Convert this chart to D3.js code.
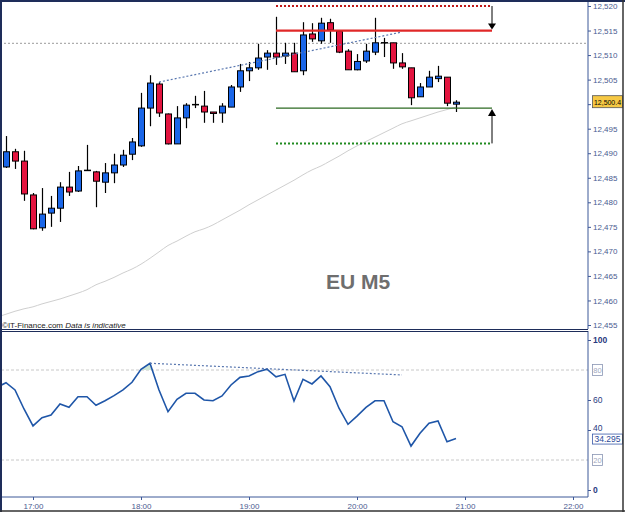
<!DOCTYPE html>
<html><head><meta charset="utf-8">
<script src="https://cdn.jsdelivr.net/npm/d3@7"></script>
<style>
body{margin:0;background:#fff}
svg{display:block}
text{font-family:Arial,"Liberation Sans",sans-serif}
</style>
</head><body>
<svg id="c" width="625" height="512"></svg>
<script>
// ---------- DATA ----------
const times = ["16:45","16:50","16:55","17:00","17:05","17:10","17:15","17:20","17:25","17:30","17:35","17:40","17:45","17:50","17:55",
"18:00","18:05","18:10","18:15","18:20","18:25","18:30","18:35","18:40","18:45","18:50","18:55",
"19:00","19:05","19:10","19:15","19:20","19:25","19:30","19:35","19:40","19:45","19:50","19:55",
"20:00","20:05","20:10","20:15","20:20","20:25","20:30","20:35","20:40","20:45","20:50","20:55"];
const opens  = [12487.2,12490.3,12488.4,12481.5,12474.8,12477.8,12478.8,12483.1,12482.3,12486.5,12486.2,12484.1,12486.0,12487.6,12489.8,
12491.5,12499.2,12504.1,12498.0,12491.9,12497.2,12499.9,12499.6,12498.4,12498.2,12499.4,12503.5,
12506.8,12507.4,12509.6,12510.4,12509.8,12510.4,12506.8,12514.3,12512.9,12516.6,12514.9,12510.8,
12507.0,12508.8,12510.6,12512.5,12512.5,12508.4,12507.4,12501.5,12503.5,12505.2,12505.5,12500.0];
const highs  = [12493.5,12490.9,12490.5,12481.9,12482.9,12481.3,12484.1,12486.2,12487.4,12491.7,12486.4,12488.0,12489.9,12490.7,12493.1,
12502.3,12505.9,12504.5,12498.1,12499.6,12500.2,12501.7,12502.7,12498.4,12500.2,12503.9,12508.2,
12508.6,12512.3,12511.0,12517.8,12512.5,12512.5,12516.7,12516.5,12517.6,12517.4,12515.0,12511.2,
12510.2,12512.3,12517.6,12513.5,12512.5,12510.4,12507.4,12504.3,12506.8,12507.8,12505.5,12500.8];
const lows   = [12487.0,12486.8,12480.3,12474.5,12474.2,12475.0,12476.0,12481.3,12482.1,12486.4,12479.0,12481.9,12483.9,12487.2,12488.6,
12491.3,12495.5,12497.4,12491.8,12491.9,12495.1,12499.2,12496.2,12496.2,12496.2,12499.4,12502.5,
12504.7,12507.0,12507.0,12508.0,12508.2,12506.6,12505.9,12512.7,12512.3,12512.5,12510.4,12507.0,
12506.9,12508.4,12510.0,12509.6,12507.2,12507.2,12499.8,12501.5,12503.5,12504.5,12499.6,12498.4];
const closes = [12490.3,12488.4,12481.7,12474.6,12477.6,12478.8,12483.1,12482.1,12486.4,12486.5,12484.3,12486.0,12487.6,12489.6,12492.3,
12499.2,12504.3,12498.2,12491.9,12497.2,12499.8,12499.9,12498.4,12498.1,12499.6,12503.5,12506.8,
12507.4,12509.4,12510.4,12509.6,12510.4,12506.6,12514.1,12513.3,12516.5,12515.1,12510.6,12507.0,
12508.7,12510.8,12512.5,12512.5,12508.4,12507.6,12501.3,12503.5,12505.5,12505.7,12500.2,12500.4];

// moving average and oscillator (one extra leading point at 16:40)
const lineTimes = ["16:40", ...times];
const maValues = [12456.6,12457.2,12457.8,12458.3,12458.7,12459.3,12459.8,12460.3,12460.9,12461.5,12462.2,12463.2,12463.9,12464.7,12465.6,12466.4,
12467.4,12468.6,12469.9,12471.2,12472.1,12473.1,12474.0,12474.6,12475.4,12476.4,12477.4,12478.4,
12479.5,12480.5,12481.5,12482.5,12483.5,12484.5,12485.6,12486.6,12487.4,12488.4,12489.4,12490.5,
12491.5,12492.4,12493.3,12494.2,12495.1,12496.0,12496.6,12497.2,12497.8,12498.4,12498.9,12499.4];
const oscValues = [68.5,71.5,66.7,54.0,42.7,48.2,50.0,57.3,55.1,62.2,62.2,56.5,59.5,62.9,66.7,71.8,
80.5,84.5,66.7,52.2,60.5,64.5,64.5,60.0,59.5,62.7,70.0,75.1,
76.0,78.9,80.5,75.5,77.1,59.3,73.8,70.7,76.0,68.9,54.5,43.8,
49.3,55.1,59.5,59.5,45.5,42.2,29.3,37.8,44.5,46.0,32.2,34.3];

const priceTicks = [12455,12460,12465,12470,12475,12480,12485,12490,12495,12500,12505,12510,12515,12520];
const oscTicks = [0,40,60,100];
const oscLevels = [20,80];
const timeTicks = ["17:00","18:00","19:00","20:00","21:00","22:00"];
const lastPrice = 12500.4;
const lastOsc = 34.295;
const refLevel = 12512.4;
const levelSpan = ["19:15","21:15"];
const levelResDotted = 12520, levelRes = 12515, levelSup = 12499.2, levelSupDotted = 12492.0;
const trendTimes = ["18:10","20:25"], trendValues = [12504.5,12514.7];
const oscTrendTimes = ["18:05","20:25"], oscTrendValues = [84.5,76.7];
const title = "EU M5";

// ---------- SCALES ----------
const parse = d3.timeParse("%H:%M");
const svg = d3.select("#c");
const AX = 588;
const x = d3.scaleTime().domain([parse("16:40"), parse("22:10")]).range([-3, 591]);
const y = d3.scaleLinear().domain([12455, 12520]).range([325, 6]);
const yo = d3.scaleLinear().domain([0, 100]).range([490, 340]);
const navy = "#1e2d5a", axisCol = "#3d5898", lblCol = "#4a5a90";
const FF = "Arial,'Liberation Sans',sans-serif";

// clips
const defs = svg.append("defs");
defs.append("clipPath").attr("id","cu").append("rect").attr("x",1).attr("y",2).attr("width",AX-1).attr("height",327);
defs.append("clipPath").attr("id","cl").append("rect").attr("x",1).attr("y",332).attr("width",AX-1).attr("height",165);
defs.append("clipPath").attr("id","ob").append("rect").attr("x",1).attr("y",332).attr("width",AX-1).attr("height",yo(80)-332);

// ---------- UPPER PANEL ----------
const up = svg.append("g").attr("clip-path","url(#cu)");
up.append("line").attr("x1",0).attr("x2",AX).attr("y1",y(refLevel)).attr("y2",y(refLevel))
  .attr("stroke","#9a9a9a").attr("stroke-dasharray","2,2");
up.append("path").datum(lineTimes.map((t,i)=>[parse(t), maValues[i]]))
  .attr("d", d3.line().curve(d3.curveMonotoneX).x(d=>x(d[0])).y(d=>y(d[1])))
  .attr("fill","none").attr("stroke","#cfcfcf").attr("stroke-width",1);

// candles
const blue = "#1a66e8", red = "#e3143f";
times.forEach((t,i)=>{
  const cx = Math.round(x(parse(t)));
  const o = opens[i], c = closes[i];
  up.append("line").attr("x1",cx+0.5).attr("x2",cx+0.5).attr("y1",y(highs[i])).attr("y2",y(lows[i]))
    .attr("stroke","#000").attr("stroke-width",1.2);
  if (Math.abs(o-c) < 0.05) {
    up.append("line").attr("x1",cx-3).attr("x2",cx+4).attr("y1",y(o)).attr("y2",y(o))
      .attr("stroke","#000").attr("stroke-width",1.5);
  } else {
    const top = y(Math.max(o,c)), bot = y(Math.min(o,c));
    up.append("rect").attr("x",cx-2.5).attr("width",6).attr("y",top).attr("height",Math.max(1,bot-top))
      .attr("fill", c>o ? blue : red).attr("stroke","#000").attr("stroke-width",1);
  }
});

up.append("line").attr("x1",x(parse(trendTimes[0]))).attr("y1",y(trendValues[0]))
  .attr("x2",x(parse(trendTimes[1]))).attr("y2",y(trendValues[1]))
  .attr("stroke","#5a78b0").attr("stroke-width",1.2).attr("stroke-dasharray","2,2");

const lx1 = x(parse(levelSpan[0])), lx2 = x(parse(levelSpan[1]));
up.append("line").attr("x1",lx1).attr("x2",lx2).attr("y1",y(levelResDotted)).attr("y2",y(levelResDotted))
  .attr("stroke","#c01818").attr("stroke-width",2).attr("stroke-dasharray","2,2");
up.append("line").attr("x1",lx1).attr("x2",lx2).attr("y1",y(levelRes)).attr("y2",y(levelRes))
  .attr("stroke","#e02828").attr("stroke-width",2.2);
up.append("line").attr("x1",lx1).attr("x2",lx2).attr("y1",y(levelSup)).attr("y2",y(levelSup))
  .attr("stroke","#2d6a22").attr("stroke-width",1.2);
up.append("line").attr("x1",lx1).attr("x2",lx2).attr("y1",y(levelSupDotted)).attr("y2",y(levelSupDotted))
  .attr("stroke","#208a20").attr("stroke-width",2).attr("stroke-dasharray","2,2");
up.append("line").attr("x1",lx2).attr("x2",lx2).attr("y1",y(levelResDotted)).attr("y2",y(levelRes)-6).attr("stroke","#000");
up.append("path").attr("d",`M${lx2-4},${y(levelRes)-7}L${lx2+4},${y(levelRes)-7}L${lx2},${y(levelRes)-1}Z`).attr("fill","#000");
up.append("line").attr("x1",lx2).attr("x2",lx2).attr("y1",y(levelSupDotted)).attr("y2",y(levelSup)+6).attr("stroke","#000");
up.append("path").attr("d",`M${lx2-4},${y(levelSup)+8}L${lx2+4},${y(levelSup)+8}L${lx2},${y(levelSup)+1}Z`).attr("fill","#000");

svg.append("text").attr("x",358).attr("y",289).attr("text-anchor","middle")
  .attr("font-size",21).attr("font-weight","bold").attr("fill","#6e6e6e").text(title);
const cr = svg.append("text").attr("x",2).attr("y",328).attr("font-size",8).attr("fill","#222");
cr.append("tspan").text("©IT-Finance.com  ");
cr.append("tspan").attr("font-style","italic").text("Data is indicative");

// price axis (the 12,500 label sits under the last-price box)
const pa = svg.append("g").attr("transform",`translate(${AX},0)`)
  .call(d3.axisRight(y).tickValues(priceTicks).tickSize(3).tickPadding(2)
    .tickFormat(d => Math.abs(d-lastPrice) < 2 ? "" : d3.format(",")(d)));
pa.select(".domain").attr("stroke",axisCol).attr("d",`M0,2V329`);
pa.selectAll(".tick line").attr("stroke",axisCol);
pa.selectAll(".tick text").attr("font-size",8).attr("fill",lblCol).attr("font-family",FF);
const lp = y(lastPrice);
svg.append("rect").attr("x",592.5).attr("y",lp-6.5).attr("width",30).attr("height",12)
  .attr("fill","#f6c844").attr("stroke","#555").attr("stroke-width",0.8);
svg.append("text").attr("x",594).attr("y",lp+3).attr("font-size",8)
  .attr("textLength",27).attr("lengthAdjust","spacingAndGlyphs")
  .attr("fill","#000").text(d3.format(",.1f")(lastPrice));

// ---------- LOWER PANEL ----------
const lo = svg.append("g");
oscLevels.forEach(v=>{
  lo.append("line").attr("x1",1).attr("x2",AX).attr("y1",yo(v)).attr("y2",yo(v))
    .attr("stroke","#c8c8c8").attr("stroke-dasharray","3,2");
});
const oscData = lineTimes.map((t,i)=>[parse(t), oscValues[i]]);
lo.append("path").datum(oscData).attr("clip-path","url(#ob)")
  .attr("d", d3.area().x(d=>x(d[0])).y0(yo(80)).y1(d=>yo(d[1])))
  .attr("fill","#cfe6d6");
lo.append("path").datum(oscData).attr("clip-path","url(#cl)")
  .attr("d", d3.line().x(d=>x(d[0])).y(d=>yo(d[1])))
  .attr("fill","none").attr("stroke","#1f56a8").attr("stroke-width",1.6);
lo.append("line").attr("x1",x(parse(oscTrendTimes[0]))).attr("y1",yo(oscTrendValues[0]))
  .attr("x2",x(parse(oscTrendTimes[1]))).attr("y2",yo(oscTrendValues[1]))
  .attr("stroke","#5a78b0").attr("stroke-width",1.2).attr("stroke-dasharray","2,2");

const oa = svg.append("g").attr("transform",`translate(${AX},0)`)
  .call(d3.axisRight(yo).tickValues(oscTicks).tickSize(3).tickPadding(2));
oa.select(".domain").attr("stroke",axisCol).attr("d",`M0,331V497`);
oa.selectAll(".tick line").attr("stroke",axisCol);
oa.selectAll(".tick text").attr("font-size",8.5).attr("fill","#2a3a80")
  .attr("font-weight",d=>d===100||d===0?"bold":"normal").attr("font-family",FF)
  .attr("dy",d=>d===40?"0.1em":"0.32em");
oscLevels.forEach(v=>{
  svg.append("rect").attr("x",592.5).attr("y",yo(v)-5.5).attr("width",10).attr("height",11)
    .attr("fill","#fff").attr("stroke","#8a96b4").attr("stroke-width",0.8);
  svg.append("text").attr("x",597.5).attr("y",yo(v)+3).attr("text-anchor","middle").attr("font-size",7.5)
    .attr("fill","#a0a8c0").text(v);
});
const lov = yo(lastOsc);
svg.append("rect").attr("x",592.5).attr("y",lov-4.5).attr("width",30).attr("height",10)
  .attr("fill","#fff").attr("stroke","#3a5aa8").attr("stroke-width",0.8);
svg.append("text").attr("x",607.5).attr("y",lov+3.3).attr("text-anchor","middle").attr("font-size",8.5)
  .attr("fill","#2a4a98").text(lastOsc);

// time axis
const xa = svg.append("g").attr("transform","translate(0,497)")
  .call(d3.axisBottom(x).tickValues(timeTicks.map(parse)).tickSize(3).tickPadding(3).tickFormat(d3.timeFormat("%H:%M")));
xa.select(".domain").attr("stroke",axisCol).attr("d","M1,0H588");
xa.selectAll(".tick line").attr("stroke",axisCol);
xa.selectAll(".tick text").attr("font-size",8).attr("fill",lblCol).attr("font-family",FF);

// panel separators & frame
svg.append("line").attr("x1",0).attr("x2",AX).attr("y1",329.5).attr("y2",329.5).attr("stroke",navy).attr("stroke-width",1.2);
svg.append("line").attr("x1",0).attr("x2",AX).attr("y1",331.5).attr("y2",331.5).attr("stroke",navy).attr("stroke-width",1.2);
svg.append("line").attr("x1",1).attr("x2",1).attr("y1",0).attr("y2",512).attr("stroke",navy).attr("stroke-width",2);
svg.append("line").attr("x1",0).attr("x2",625).attr("y1",1).attr("y2",1).attr("stroke",navy).attr("stroke-width",2);
svg.append("line").attr("x1",623).attr("x2",623).attr("y1",0).attr("y2",512).attr("stroke","#333").attr("stroke-width",1.5);
svg.append("line").attr("x1",0).attr("x2",625).attr("y1",511).attr("y2",511).attr("stroke","#333").attr("stroke-width",1.5);
</script>
</body></html>
